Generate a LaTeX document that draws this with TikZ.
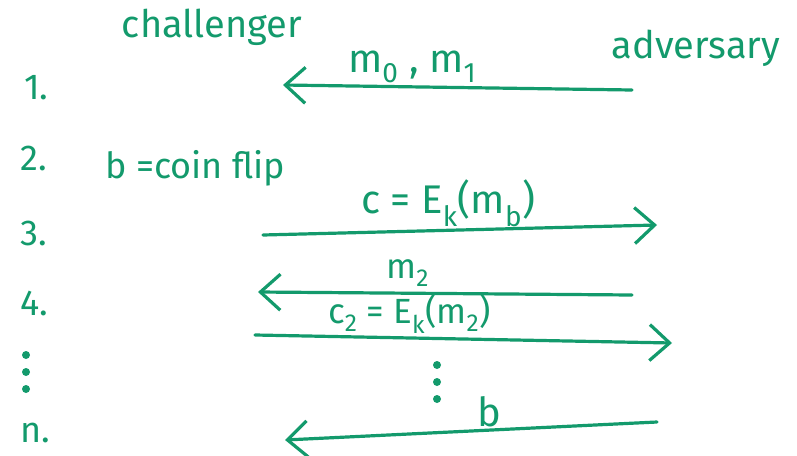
\documentclass[tikz,border=0pt]{standalone}
\usepackage{fontspec}
\setmainfont{Fira Sans}
\usepackage{tikz}
\usetikzlibrary{arrows.meta}
\definecolor{penc}{HTML}{139A6C}
\newcommand{\sub}[1]{\textsubscript{#1}}

\begin{document}
\begin{tikzpicture}[
    x=1pt, y=-1pt,
    color=penc,
    font=\fontsize{36}{40}\selectfont,
    party/.style={inner sep=0pt, font=\fontsize{38}{42}\selectfont},
    num/.style={inner sep=0pt, anchor=west},
    lbl/.style={inner sep=1pt, above=1pt, font=\fontsize{40}{44}\selectfont},
    tight/.style={inner sep=0pt, font=\fontsize{35}{38}\selectfont},
    msg/.style={line width=3.2pt, line cap=round,
      -{Straight Barb[length=20pt, width=36pt, line width=3.2pt]}},
    dot/.style={fill, circle, inner sep=0pt, minimum size=8pt}
  ]
  \useasboundingbox (0,0) rectangle (797,455);

  % --- parties
  \node[party] (chal) at (212,27) {challenger};
  \node[party] (adv) at (696,48) {adversary};

  % --- step numbers
  \node[num] (n1) at (24,88) {1.};
  \node[num] (n2) at (20,158) {2.};
  \node[num] (n3) at (20,233) {3.};
  \node[num] (n4) at (20,303) {4.};
  \node[num] (nn) at (20,433) {n.};
  \foreach \y in {355,372,389}
    \node[dot] at (26,\y) {};

  % --- step 2
  \node[inner sep=0pt, anchor=west] (flip) at (105,168) {b =coin flip};

  % --- end points
  \coordinate (a1) at (632,90);  \coordinate (c1) at (283,85);
  \coordinate (c3) at (263,235); \coordinate (a3) at (657,225);
  \coordinate (a4) at (632,295); \coordinate (c4) at (258,292);
  \coordinate (c5) at (255,335); \coordinate (a5) at (672,343);
  \coordinate (an) at (657,422); \coordinate (cn) at (285,440);

  % --- messages
  \draw[msg] (a1) -- node[lbl, pos=0.63] {m\sub{0} , m\sub{1}} (c1);
  \draw[msg] (c3) -- node[lbl, pos=0.47] {c = E\sub{k}(m\sub{b})} (a3);
  \draw[msg] (a4) -- node[lbl, tight, pos=0.6, above=4pt] {m\sub{2}} (c4);
  \draw[msg] (c5) -- node[lbl, tight, pos=0.37, above=2pt] {c\sub{2} = E\sub{k}(m\sub{2})} (a5);
  \draw[msg] (an) -- node[lbl, pos=0.45] {b} (cn);

  % --- more rounds
  \foreach \y in {365,382,399}
    \node[dot] at (437,\y) {};

\end{tikzpicture}
\end{document}
